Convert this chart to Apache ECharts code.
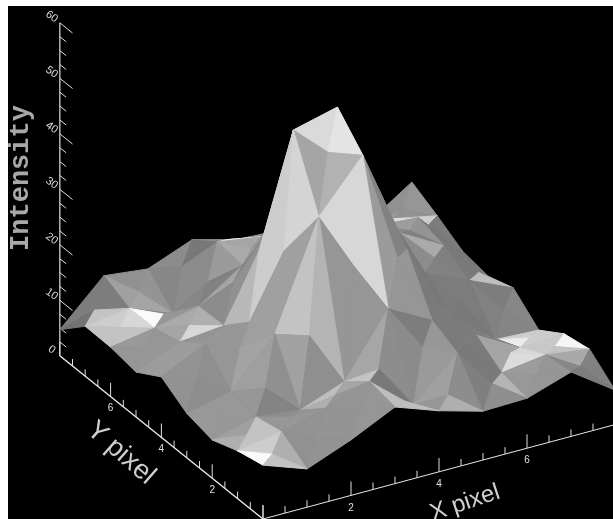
<!DOCTYPE html>
<html>
<head>
<meta charset="utf-8">
<title>Intensity surface</title>
<script src="https://cdn.jsdelivr.net/npm/echarts@6/dist/echarts.min.js"></script>
<style>
html, body { margin: 0; padding: 0; background: #fff; width: 613px; height: 519px; overflow: hidden; }
#surface { position: absolute; left: 8px; top: 6px; width: 605px; height: 513px; background: #000; }
</style>
</head>
<body>
<div id="surface"></div>
<script>
// Intensity, one list per Y pixel, X pixel 0..8 left to right
var rowY0 = [9.7, 6.9, 10, 13.8, 11, 8.8, 9, 11.6, 6.2];
var rowY1 = [8.6, 9.9, 12, 14.7, 8.4, 15.6, 9.9, 11, 9.9];
var rowY2 = [6.9, 8.9, 8, 11, 22, 17.8, 13, 8.6, 9];
var rowY3 = [8, 9.8, 18, 37, 46, 27, 12.6, 6.4, 6];
var rowY4 = [10.9, 14.7, 16.5, 49, 51, 30, 16.8, 13.4, 9.9];
var rowY5 = [8.1, 11.4, 12.2, 27, 30, 25, 20.4, 16, 8.4];
var rowY6 = [8.9, 10.2, 12, 17.3, 18, 18, 18, 17.3, 9.2];
var rowY7 = [9, 10.1, 7, 17.8, 16.6, 15, 12, 13.5, 11.9];
var rowY8 = [4.7, 12.3, 11.4, 14.5, 12.4, 12, 10, 9, 14.3];
var intensity = [rowY0, rowY1, rowY2, rowY3, rowY4, rowY5, rowY6, rowY7, rowY8];

// Gray of the faces that the lighting below gets wrong: cell x, cell y, side, gray.
// Sides are 0 back, 1 right, 2 left, 3 front
var peakFaces = [
    [3, 3, 0, 218], [3, 3, 1, 228], [3, 3, 2, 165], [3, 3, 3, 178],
    [2, 3, 1, 212], [2, 3, 0, 205], [2, 3, 3, 160], [2, 3, 2, 160],
    [2, 4, 3, 205], [2, 4, 1, 205],
    [2, 2, 1, 180], [2, 2, 0, 195],
    [3, 2, 2, 150], [3, 2, 3, 150], [3, 2, 0, 215], [3, 2, 1, 215],
    [4, 3, 2, 140], [4, 3, 3, 135],
    [4, 2, 0, 130], [4, 2, 2, 155], [4, 2, 3, 150], [4, 2, 1, 150]
];
var leftFaces = [
    [0, 7, 2, 115], [0, 7, 0, 125], [0, 7, 1, 125], [0, 7, 3, 195],
    [0, 6, 0, 205], [0, 6, 1, 215], [0, 6, 3, 195], [0, 6, 2, 195],
    [1, 6, 2, 250],
    [1, 5, 3, 215], [1, 5, 1, 175], [1, 5, 2, 165], [1, 5, 0, 170],
    [1, 7, 2, 160], [1, 7, 0, 145], [1, 7, 1, 148], [1, 7, 3, 165],
    [2, 7, 2, 135], [2, 7, 0, 140], [2, 7, 1, 120], [2, 7, 3, 140],
    [3, 7, 1, 240], [3, 7, 3, 235], [3, 6, 0, 165],
    [2, 6, 2, 135], [2, 6, 0, 140], [2, 6, 1, 155], [2, 6, 3, 130],
    [2, 5, 2, 140], [2, 5, 1, 130], [2, 5, 3, 145]
];
var frontFaces = [
    [0, 1, 2, 175], [0, 1, 3, 195], [0, 1, 1, 195], [0, 1, 0, 160],
    [0, 0, 2, 250], [0, 0, 0, 205], [0, 0, 1, 175], [0, 0, 3, 195],
    [2, 1, 0, 190], [2, 1, 2, 175], [2, 1, 1, 165], [2, 1, 3, 150],
    [3, 1, 2, 195], [3, 0, 3, 190], [3, 0, 2, 190],
    [4, 0, 3, 175], [4, 0, 2, 150]
];
var rightFaces = [
    [7, 2, 2, 235], [7, 2, 3, 205], [7, 2, 0, 205], [7, 2, 1, 205],
    [6, 1, 3, 220], [6, 1, 1, 215], [6, 1, 0, 165], [6, 1, 2, 165],
    [7, 1, 3, 195], [7, 1, 1, 245], [7, 1, 0, 200], [7, 1, 2, 200],
    [5, 0, 1, 180],
    [6, 6, 1, 220], [7, 6, 0, 205],
    [6, 4, 0, 170], [6, 4, 2, 140],
    [7, 4, 3, 190],
    [7, 7, 0, 145], [7, 7, 1, 150]
];
var grayOverrides = {};
peakFaces.concat(leftFaces, frontFaces, rightFaces).forEach(function (f) {
    grayOverrides[f[0] + '_' + f[1] + '_' + f[2]] = f[3];
});

// Axis ticks
var xTickLabels = ['2', '4', '6'];
var yTickLabels = ['2', '4', '6'];
var zTickLabels = ['0', '10', '20', '30', '40', '50', '60'];

// Oblique view of the box, in pixels per data unit
function project(x, y, z) {
    return [263 + 44 * x - 25.4 * y, 519 - 11.8 * x - 20.4 * y - 5.55 * z];
}

// Flat shading of one triangle, a side light and a soft highlight on the near flat faces
var zScale = 0.123;
function shade(a, b, c) {
    var ux = b[0] - a[0], uy = b[1] - a[1], uz = (b[2] - a[2]) * zScale;
    var vx = c[0] - a[0], vy = c[1] - a[1], vz = (c[2] - a[2]) * zScale;
    var nx = uy * vz - uz * vy, ny = uz * vx - ux * vz, nz = ux * vy - uy * vx;
    var len = Math.sqrt(nx * nx + ny * ny + nz * nz);
    nx /= len; ny /= len; nz /= len;
    if (nz < 0) { nx = -nx; ny = -ny; nz = -nz; }
    var gray = 162 - 30 * nx + 15 * ny - 25 * nz;
    var spec = Math.max(0, 0.088 * nx - 0.137 * ny + 0.987 * nz);
    gray += 40 * Math.pow(spec, 30);
    return Math.round(Math.min(255, Math.max(0, gray)));
}

function grayCss(gray) {
    return 'rgb(' + gray + ',' + gray + ',' + gray + ')';
}

// Each cell is a fan of four triangles round its mean, painted back to front
var triangles = [];
for (var j = 7; j >= 0; j--) {
    for (var i = 7; i >= 0; i--) {
        var p00 = [i, j, intensity[j][i]];
        var p10 = [i + 1, j, intensity[j][i + 1]];
        var p01 = [i, j + 1, intensity[j + 1][i]];
        var p11 = [i + 1, j + 1, intensity[j + 1][i + 1]];
        var mid = [i + 0.5, j + 0.5, (p00[2] + p10[2] + p01[2] + p11[2]) / 4];
        var fan = [[p01, p11], [p10, p11], [p00, p01], [p00, p10]];
        for (var s = 0; s < 4; s++) {
            var forced = grayOverrides[i + '_' + j + '_' + s];
            var gray = forced !== undefined ? forced : shade(fan[s][0], fan[s][1], mid);
            triangles.push({ pts: [fan[s][0], fan[s][1], mid], color: grayCss(gray) });
        }
    }
}

// Axis lines and ticks as segments in data space
var segments = [];
function addSegment(from, to, color, width) {
    segments.push({ a: from, b: to, color: color, width: width });
}
addSegment([0, 0, 0], [8, 0, 0], '#e8e8e8', 1);
addSegment([0, 0, 0], [0, 8, 0], '#e8e8e8', 1.4);
addSegment([0, 8, 0], [0, 8, 60], '#b4b4b4', 1.5);
for (var t = 0; t <= 16; t++) {
    var major = t % 4 === 0;
    addSegment([t / 2, 0, 0], [t / 2, 0, major ? 2.5 : 1.25], '#e0e0e0', 1);
    addSegment([0, t / 2, 0], [0, t / 2, major ? 2.5 : 1.25], '#e0e0e0', 1);
}
for (var k = 0; k <= 24; k++) {
    addSegment([0, 8, k * 2.5], [0, k % 4 === 0 ? 7.5 : 7.75, k * 2.5], '#e0e0e0', 1);
}

// Tick labels and axis titles
var labels = [];
xTickLabels.forEach(function (txt) {
    var p = project(+txt, 0, 0);
    labels.push({ text: txt, x: p[0], y: p[1] + 12.5, rot: 0, font: '10px "Liberation Sans"', color: '#e0e0e0' });
});
yTickLabels.forEach(function (txt) {
    var p = project(0, +txt, 0);
    labels.push({ text: txt, x: p[0], y: p[1] + 12, rot: 0, font: '10px "Liberation Sans"', color: '#e0e0e0' });
});
zTickLabels.forEach(function (txt) {
    var p = project(0, 8, +txt);
    labels.push({ text: txt, x: p[0] - 8, y: p[1] - 6, rot: -0.6, font: '11px "Liberation Sans"', color: '#d8d8d8' });
});
labels.push({ text: 'Intensity', x: 21, y: 178, rot: Math.PI / 2, font: 'bold 27px "Liberation Mono"', color: '#a8a8a8' });
labels.push({ text: 'Y pixel', x: 121, y: 453, rot: -0.72, font: '27px "Liberation Sans"', color: '#d0d0d0' });
labels.push({ text: 'X pixel', x: 465, y: 503, rot: 0.32, font: '24px "Liberation Sans"', color: '#d0d0d0' });

function renderFace(params, api) {
    var tri = triangles[params.dataIndex];
    return {
        type: 'polygon',
        shape: {
            points: tri.pts.map(function (p) { return api.coord(project(p[0], p[1], p[2])); })
        },
        style: { fill: tri.color, stroke: tri.color, lineWidth: 1 }
    };
}

function renderSegment(params, api) {
    var seg = segments[params.dataIndex];
    var a = api.coord(project(seg.a[0], seg.a[1], seg.a[2]));
    var b = api.coord(project(seg.b[0], seg.b[1], seg.b[2]));
    return {
        type: 'line',
        shape: { x1: a[0], y1: a[1], x2: b[0], y2: b[1] },
        style: { stroke: seg.color, lineWidth: seg.width }
    };
}

function renderLabel(params, api) {
    var lab = labels[params.dataIndex];
    var p = api.coord([lab.x, lab.y]);
    return {
        type: 'text',
        x: p[0],
        y: p[1],
        rotation: lab.rot,
        style: { text: lab.text, font: lab.font, fill: lab.color, align: 'center', verticalAlign: 'middle' }
    };
}

var chart = echarts.init(document.getElementById('surface'));
chart.setOption({
    animation: false,
    backgroundColor: '#000',
    grid: { left: 0, right: 0, top: 0, bottom: 0 },
    xAxis: { type: 'value', min: 8, max: 613, show: false },
    yAxis: { type: 'value', min: 6, max: 519, inverse: true, show: false },
    series: [
        {
            type: 'custom',
            silent: true,
            clip: false,
            renderItem: renderSegment,
            data: segments.map(function (s, n) { return [n]; })
        },
        {
            type: 'custom',
            silent: true,
            clip: false,
            renderItem: renderFace,
            data: triangles.map(function (s, n) { return [n]; })
        },
        {
            type: 'custom',
            silent: true,
            clip: false,
            renderItem: renderLabel,
            data: labels.map(function (s, n) { return [n]; })
        }
    ]
});
</script>
</body>
</html>
